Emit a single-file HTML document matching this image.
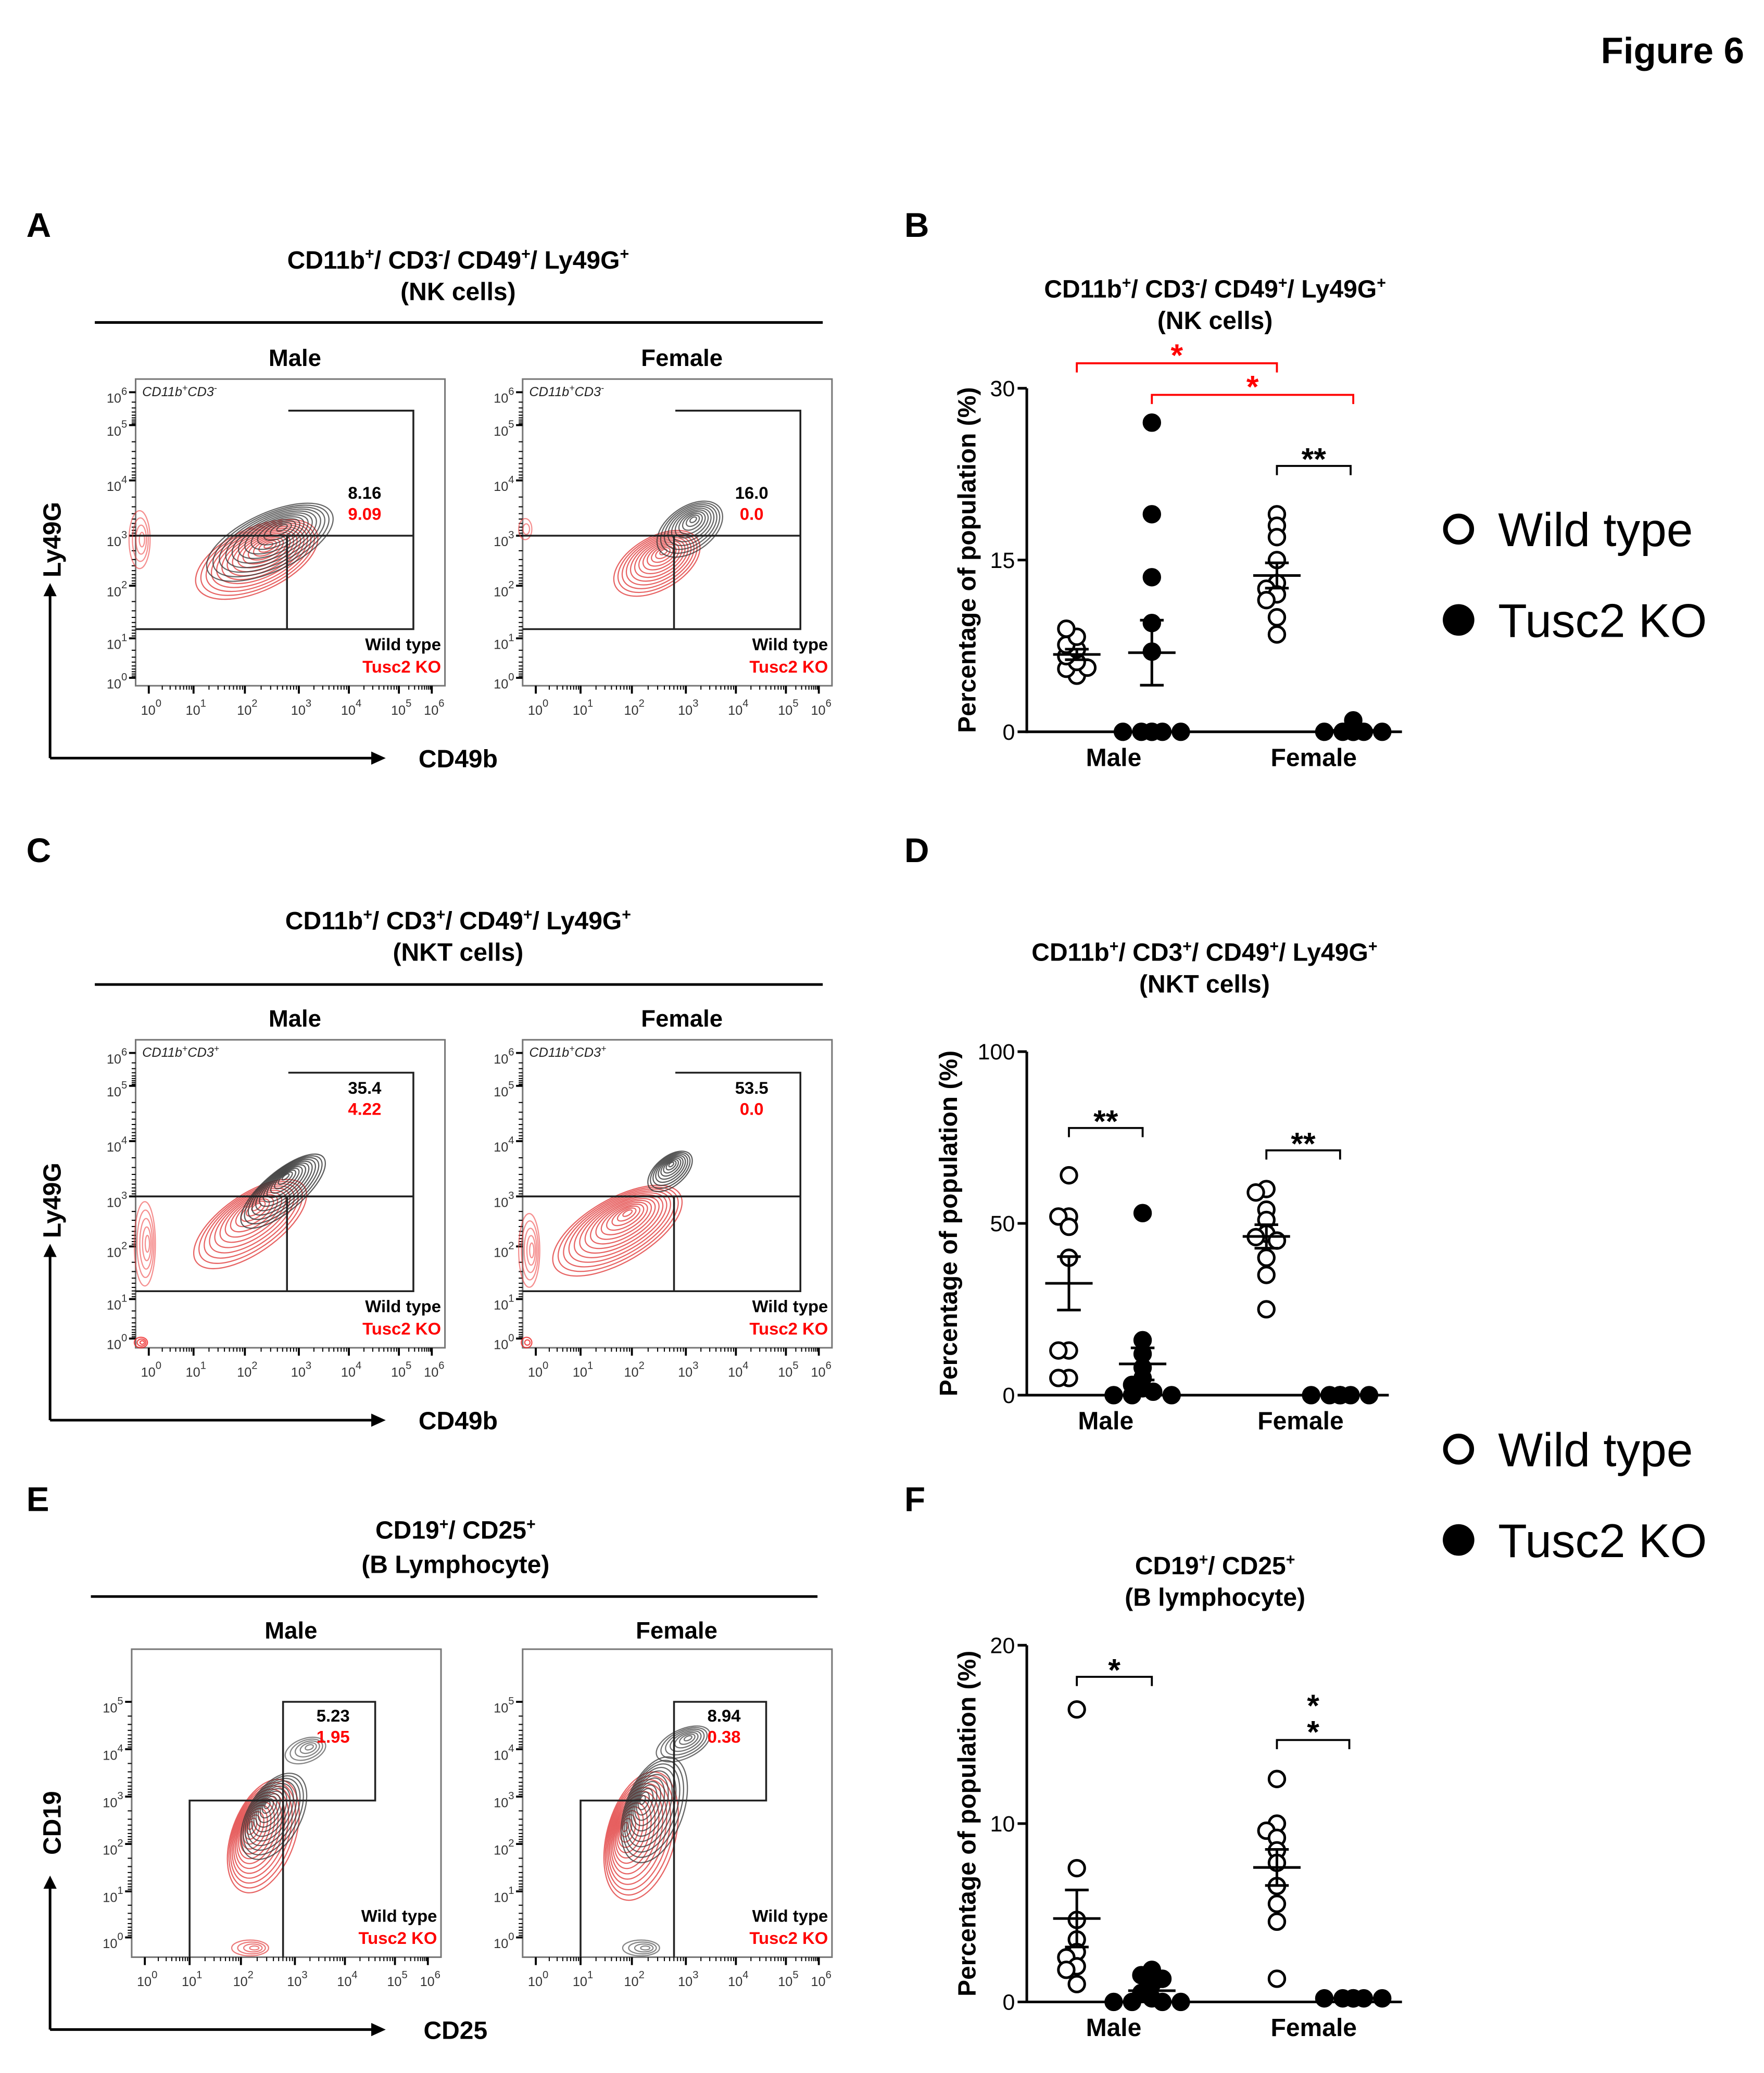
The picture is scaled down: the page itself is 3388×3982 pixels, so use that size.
<!DOCTYPE html>
<html><head><meta charset="utf-8"><style>
html,body{margin:0;padding:0;background:#fff}
svg{display:block;font-family:"Liberation Sans",Arial,sans-serif}
</style></head><body>
<svg id="fig" width="3388" height="3982" viewBox="0 0 1340 1575" xmlns="http://www.w3.org/2000/svg">
<rect width="1340" height="1575" fill="#fff"/>
<text x="1325" y="48" text-anchor="end" font-size="28" font-weight="bold">Figure 6</text>
<g font-size="26" font-weight="bold">
<text x="20" y="180">A</text>
<text x="687" y="180">B</text>
<text x="20" y="655">C</text>
<text x="687" y="655">D</text>
<text x="20" y="1148">E</text>
<text x="687" y="1148">F</text>
</g>
<g font-size="19" font-weight="bold" text-anchor="middle">
<text x="348" y="204">CD11b<tspan dy="-7" font-size="12">+</tspan><tspan dy="7">/ CD3</tspan><tspan dy="-7" font-size="12">-</tspan><tspan dy="7">/ CD49</tspan><tspan dy="-7" font-size="12">+</tspan><tspan dy="7">/ Ly49G</tspan><tspan dy="-7" font-size="12">+</tspan></text>
<text x="348" y="228">(NK cells)</text>
<text x="923" y="226">CD11b<tspan dy="-7" font-size="12">+</tspan><tspan dy="7">/ CD3</tspan><tspan dy="-7" font-size="12">-</tspan><tspan dy="7">/ CD49</tspan><tspan dy="-7" font-size="12">+</tspan><tspan dy="7">/ Ly49G</tspan><tspan dy="-7" font-size="12">+</tspan></text>
<text x="923" y="250">(NK cells)</text>
<text x="348" y="706">CD11b<tspan dy="-7" font-size="12">+</tspan><tspan dy="7">/ CD3</tspan><tspan dy="-7" font-size="12">+</tspan><tspan dy="7">/ CD49</tspan><tspan dy="-7" font-size="12">+</tspan><tspan dy="7">/ Ly49G</tspan><tspan dy="-7" font-size="12">+</tspan></text>
<text x="348" y="730">(NKT cells)</text>
<text x="915" y="730">CD11b<tspan dy="-7" font-size="12">+</tspan><tspan dy="7">/ CD3</tspan><tspan dy="-7" font-size="12">+</tspan><tspan dy="7">/ CD49</tspan><tspan dy="-7" font-size="12">+</tspan><tspan dy="7">/ Ly49G</tspan><tspan dy="-7" font-size="12">+</tspan></text>
<text x="915" y="754">(NKT cells)</text>
<text x="346" y="1169">CD19<tspan dy="-7" font-size="12">+</tspan><tspan dy="7">/ CD25</tspan><tspan dy="-7" font-size="12">+</tspan></text>
<text x="346" y="1195">(B Lymphocyte)</text>
<text x="923" y="1196">CD19<tspan dy="-7" font-size="12">+</tspan><tspan dy="7">/ CD25</tspan><tspan dy="-7" font-size="12">+</tspan></text>
<text x="923" y="1220">(B lymphocyte)</text>
</g>
<g id="legends"></g>
<g id="flows"></g>
<g id="scatters"></g>
</svg>
<script>
const NS="http://www.w3.org/2000/svg";
const svg=document.getElementById('fig');
function el(tag,attrs,parent,txt){const e=document.createElementNS(NS,tag);for(const k in attrs)e.setAttribute(k,attrs[k]);if(txt!==undefined)e.textContent=txt;(parent||svg).appendChild(e);return e;}

// ---------- scatter data ----------
const nkMaleWT=[4.9,5.5,5.6,6.1,6.6,7.2,7.6,8.3,9.0];
const nkMaleKO=[27,19,13.5,9.5,7,0,0,0,0,0,0];
const nkFemaleWT=[19,18,17,15,13,12.5,12,11.5,10,8.5];
const nkFemaleKO=[1,0,0,0,0,0,0,0];
const nkYTicks=[0,15,30];
const nktMaleWT=[64,52,52,49,40,13,13,5,5];
const nktMaleKO=[53,16,12,8,5,3,2,1,0,0,0];
const nktFemaleWT=[60,59,54,51,47,46,45,40,35,25];
const nktFemaleKO=[0,0,0,0,0,0,0,0];
const nktYTicks=[0,50,100];
const bMaleWT=[16.4,7.5,4.6,3.5,2.8,2.5,2.0,1.8,1.0];
const bMaleKO=[1.8,1.5,1.3,1.0,0.5,0.2,0,0,0,0];
const bFemaleWT=[12.5,10,9.6,9.2,8.5,7.8,6.5,5.5,4.5,1.3];
const bFemaleKO=[0.2,0.2,0.2,0.2,0.2,0.2,0.2,0.2];
const bYTicks=[0,10,20];
const categories=['Male','Female'];

const sg=document.getElementById('scatters');
function scatterPanel(p){
  const g=el('g',{},sg);
  
  
  const max=p.ticks[p.ticks.length-1];
  const Y=v=>p.y0-v*(p.y0-p.yTop)/max;
  el('line',{x1:p.ax,y1:p.yTop,x2:p.ax,y2:p.y0+1,stroke:'#000','stroke-width':2},g);
  el('line',{x1:p.ax,y1:p.y0,x2:p.ax2,y2:p.y0,stroke:'#000','stroke-width':2},g);
  p.ticks.forEach(t=>{
    el('line',{x1:p.ax-7,y1:Y(t),x2:p.ax,y2:Y(t),stroke:'#000','stroke-width':2},g);
    const tx=el('text',{x:p.ax-9,y:Y(t)+6,'text-anchor':'end','font-size':17},g,String(t));
    
    
  });
  const yl=el('text',{x:0,y:0,transform:`translate(${p.ylx},${(p.yTop+p.y0)/2}) rotate(-90)`,'text-anchor':'middle','font-size':19,'font-weight':'bold'},g,'Percentage of population (%)');
  
  
  categories.forEach((c,i)=>{
    const t=el('text',{x:p.catX[i],y:p.y0+26,'text-anchor':'middle','font-size':19,'font-weight':'bold'},g,c);
    
    
  });
  p.groups.forEach((gr,gi)=>{
    const placed=[];
    gr.vals.forEach(v=>{
      const y=Y(v);
      const offs=[0,-8,8,-15,15,-22,22,-29,29];
      let ox=0;
      for(const o of offs){if(placed.every(q=>Math.hypot(q[0]-o,q[1]-y)>=7.5)){ox=o;break;}}
      placed.push([ox,y]);
      const c=el('circle',{cx:gr.x+ox,cy:y,r:6,fill:gr.filled?'#000':'#fff',stroke:'#000','stroke-width':2},g);
      
      
    });
    const n=gr.vals.length,m=gr.vals.reduce((a,b)=>a+b,0)/n;
    const sd=Math.sqrt(gr.vals.reduce((a,b)=>a+(b-m)*(b-m),0)/(n-1)),se=sd/Math.sqrt(n);
    const ml=el('line',{x1:gr.x-18,y1:Y(m),x2:gr.x+18,y2:Y(m),stroke:'#000','stroke-width':2},g);
    
    
    el('line',{x1:gr.x,y1:Y(m+se),x2:gr.x,y2:Y(Math.max(0,m-se)),stroke:'#000','stroke-width':2},g);
    el('line',{x1:gr.x-9,y1:Y(m+se),x2:gr.x+9,y2:Y(m+se),stroke:'#000','stroke-width':2},g);
    el('line',{x1:gr.x-9,y1:Y(Math.max(0,m-se)),x2:gr.x+9,y2:Y(Math.max(0,m-se)),stroke:'#000','stroke-width':2},g);
  });
  p.brackets.forEach(b=>{
    const bg=el('g',{},g);
    
    
    el('path',{d:`M${b.x1} ${b.y+7}V${b.y}H${b.x2}V${b.y+7}`,fill:'none',stroke:b.col,'stroke-width':1.5},bg);
    b.stars.forEach(s=>el('text',{x:(b.x1+b.x2)/2,y:s,'text-anchor':'middle','font-size':24,'font-weight':'bold',fill:b.col},bg,b.txt));
  });
}
scatterPanel({name:'panel-b-nk-scatter',ax:780,ax2:1065,yTop:295,y0:556,ticks:nkYTicks,ylx:741,catX:[846,998],
  groups:[{x:818,vals:nkMaleWT},{x:875,vals:nkMaleKO,filled:1},{x:970,vals:nkFemaleWT},{x:1028,vals:nkFemaleKO,filled:1}],
  brackets:[{x1:818,x2:970,y:276,col:'#f00',txt:'*',stars:[278]},{x1:875,x2:1028,y:300,col:'#f00',txt:'*',stars:[302]},{x1:970,x2:1026,y:354,col:'#000',txt:'**',stars:[357]}]});
scatterPanel({name:'panel-d-nkt-scatter',ax:780,ax2:1055,yTop:799,y0:1060,ticks:nktYTicks,ylx:727,catX:[840,988],
  groups:[{x:812,vals:nktMaleWT},{x:868,vals:nktMaleKO,filled:1},{x:962,vals:nktFemaleWT},{x:1018,vals:nktFemaleKO,filled:1}],
  brackets:[{x1:812,x2:868,y:857,col:'#000',txt:'**',stars:[860]},{x1:962,x2:1018,y:874,col:'#000',txt:'**',stars:[877]}]});
scatterPanel({name:'panel-f-b-scatter',ax:780,ax2:1065,yTop:1250,y0:1521,ticks:bYTicks,ylx:741,catX:[846,998],
  groups:[{x:818,vals:bMaleWT},{x:875,vals:bMaleKO,filled:1},{x:970,vals:bFemaleWT},{x:1028,vals:bFemaleKO,filled:1}],
  brackets:[{x1:818,x2:875,y:1274,col:'#000',txt:'*',stars:[1277]},{x1:970,x2:1025,y:1322,col:'#000',txt:'*',stars:[1304,1324]}]});

// ---------- legends ----------
const lg=document.getElementById('legends');
[402,1101].forEach(y=>{
  const a=el('g',{},lg);
  
  
  el('circle',{cx:1108,cy:y,r:10,fill:'#fff',stroke:'#000','stroke-width':3.5},a);
  el('text',{x:1138,y:y+13,'font-size':36},a,'Wild type');
  const b=el('g',{},lg);
  
  
  el('circle',{cx:1108,cy:y+69,r:12,fill:'#000'},b);
  el('text',{x:1138,y:y+82,'font-size':36},b,'Tusc2 KO');
});

// ---------- flow plots ----------
const fg=document.getElementById('flows');
const flowDecades=[0,1,2,3,4,5,6];
function pow10(g,x,y,e,anchor){
  const t=el('text',{x:x,y:y,'font-size':10,fill:'#333','text-anchor':anchor||'start'},g,'10');
  el('tspan',{dy:-6,'font-size':8},t,String(e));
}
function contours(g,cx,cy,rx,ry,rot,n,col,op){
  for(let i=0;i<n;i++){const f=1-i/n;
    el('ellipse',{cx:cx+ (1-f)*rx*0.3*Math.cos(rot*Math.PI/180),cy:cy+(1-f)*rx*0.3*Math.sin(rot*Math.PI/180),rx:rx*f,ry:ry*f,transform:`rotate(${rot} ${cx} ${cy})`,fill:'none',stroke:col,'stroke-width':0.9,opacity:op},g);}
}
function flowPlot(o){
  const g=el('g',{},fg);
  
  
  el('rect',{x:o.x,y:o.y,width:o.w,height:o.h,fill:'none',stroke:'#777','stroke-width':1.2},g);
  o.yt.forEach((yy,i)=>{
    el('line',{x1:o.x-5,y1:yy,x2:o.x,y2:yy,stroke:'#000','stroke-width':1.5},g);
    pow10(g,o.x-22,yy+8,o.yd[i]);
    if(i<o.yt.length-1){const n=o.yt[i+1];for(let k=2;k<10;k++){const yy2=yy+(n-yy)*Math.log10(k);el('line',{x1:o.x-3,y1:yy2,x2:o.x,y2:yy2,stroke:'#000','stroke-width':0.8},g);}}
  });
  const xt=[o.x+10,o.x+44,o.x+83,o.x+124,o.x+162,o.x+200,o.x+225];
  xt.forEach((xx,i)=>{
    el('line',{x1:xx,y1:o.y+o.h,x2:xx,y2:o.y+o.h+6,stroke:'#000','stroke-width':1.5},g);
    pow10(g,xx-6,o.y+o.h+22,flowDecades[i]);
    if(i<xt.length-1){const n=xt[i+1];for(let k=2;k<10;k++){const x2=xx+(n-xx)*Math.log10(k);el('line',{x1:x2,y1:o.y+o.h,x2:x2,y2:o.y+o.h+3,stroke:'#000','stroke-width':0.8},g);}}
  });
  if(o.lab){const t=el('text',{x:o.x+5,y:o.y+13,'font-size':10,'font-style':'italic',fill:'#222'},g,o.lab[0]);el('tspan',{dy:-4,'font-size':7},t,o.lab[1]);el('tspan',{dy:4},t,'CD3');el('tspan',{dy:-4,'font-size':7},t,o.lab[2]);}
  o.blobs.forEach(b=>contours(g,...b));
  o.lines.forEach(l=>el('path',{d:l,fill:'none',stroke:'#222','stroke-width':1.4},g));
  el('text',{x:o.vx,y:o.vy,'text-anchor':'middle','font-size':13,'font-weight':'bold'},g,o.v[0]);
  el('text',{x:o.vx,y:o.vy+16,'text-anchor':'middle','font-size':13,'font-weight':'bold',fill:'#f00'},g,o.v[1]);
  el('text',{x:o.x+o.w-3,y:o.y+o.h-27,'text-anchor':'end','font-size':13,'font-weight':'bold'},g,'Wild type');
  el('text',{x:o.x+o.w-3,y:o.y+o.h-10,'text-anchor':'end','font-size':13,'font-weight':'bold',fill:'#f00'},g,'Tusc2 KO');
}
const ytA=[298,323,365,407,445,485,515];
function row(y0,h,yt,yd,males,vals,labs,gate,blobsM,blobsF,names){
  [103,397].forEach((x,i)=>{
    const d=x-103;
    const L=gate.map(s=>s.replace(/X(-?\d+)/g,(m,n)=>x+ +n));
    flowPlot({name:names[i],x:x,y:y0,w:235,h:h,yt:yt,yd:yd,lab:labs,blobs:(i?blobsF:blobsM).map(b=>[b[0]+d,...b.slice(1)]),lines:L,vx:x+174,vy:vals.y,v:vals.v[i]});
  });
}
const blobsAM=[[195,425,50,24,-25,14,'#d22',0.7],[205,412,52,22,-25,12,'#333',0.75],[106,410,8,22,0,4,'#e44',0.6]];
const blobsAF=[[205,428,36,20,-30,12,'#d22',0.7],[230,402,28,17,-35,10,'#333',0.75],[105,402,5,8,0,2,'#e44',0.6]];
row(288,233,ytA,[6,5,4,3,2,1,0],0,{y:379,v:[['8.16','9.09'],['16.0','0.0']]},['CD11b','+','-'],
 ['MX116 312 H X211 V478 H X0','MX0 407 H X211','MX115 407 V478'],blobsAM,blobsAF,['panel-a-male-flow','panel-a-female-flow']);
const ytC=ytA.map(v=>v+502);
const blobsCM=[[190,930,50,22,-35,12,'#d22',0.7],[215,905,40,15,-40,12,'#333',0.8],[110,945,8,32,0,5,'#e44',0.6],[107,1020,5,4,0,3,'#e22',0.8]];
const blobsCF=[[175,935,55,24,-30,14,'#d22',0.7],[215,890,20,11,-40,9,'#333',0.8],[108,950,8,28,0,5,'#e44',0.6],[106,1020,4,4,0,2,'#e22',0.8]];
row(790,234,ytC,[6,5,4,3,2,1,0],0,{y:831,v:[['35.4','4.22'],['53.5','0.0']]},['CD11b','+','+'],
 ['MX116 815 H X211 V981 H X0','MX0 909 H X211','MX115 909 V981'],blobsCM,blobsCF,['panel-c-male-flow','panel-c-female-flow']);
const ytE=[1293,1329,1365,1401,1437,1472];
[100,397].forEach((x,i)=>{
  const d=x-100;
  const bM=[[200,1395,45,24,-70,14,'#d22',0.7],[208,1380,36,20,-60,12,'#333',0.75],[232,1330,16,9,-20,5,'#333',0.6],[190,1480,14,6,0,4,'#d22',0.6]];
  const bF=[[190,1395,50,26,-75,14,'#d22',0.7],[200,1375,42,22,-70,12,'#333',0.75],[222,1325,22,11,-25,7,'#333',0.7],[190,1480,14,6,0,4,'#333',0.6]];
  flowPlot({name:i?'panel-e-female-flow':'panel-e-male-flow',x:x,y:1253,w:235,h:234,yt:ytE,yd:[5,4,3,2,1,0],lab:null,
   blobs:(i?bF:bM).map(b=>[b[0]+d,...b.slice(1)]),
   lines:[`M${x+44} 1487 V1368 H${x+185} V1293 H${x+115} V1487`],vx:x+153,vy:1308,v:i?['8.94','0.38']:['5.23','1.95']});
});

// ---------- flow headers and axes ----------
function hdr(lineY,x1,x2,lblY,cx){
  el('line',{x1:x1,y1:lineY,x2:x2,y2:lineY,stroke:'#000','stroke-width':2});
  const a=el('text',{x:cx[0],y:lblY,'text-anchor':'middle','font-size':18,'font-weight':'bold'},svg,'Male');
  
  const b=el('text',{x:cx[1],y:lblY,'text-anchor':'middle','font-size':18,'font-weight':'bold'},svg,'Female');
  
}
hdr(245,72,625,278,[224,518]);hdr(748,72,625,780,[224,518]);hdr(1213,69,621,1245,[221,514]);
function arrows(y,top,yl,xl,yLabY,xLabX){
  el('line',{x1:38,y1:y,x2:38,y2:top+8,stroke:'#000','stroke-width':2});
  el('path',{d:`M33 ${top+10}L38 ${top}L43 ${top+10}Z`,fill:'#000'});
  el('line',{x1:38,y1:y,x2:284,y2:y,stroke:'#000','stroke-width':2});
  el('path',{d:`M282 ${y-5}L293 ${y}L282 ${y+5}Z`,fill:'#000'});
  const a=el('text',{x:0,y:0,transform:`translate(46,${yLabY}) rotate(-90)`,'text-anchor':'middle','font-size':19,'font-weight':'bold'},svg,yl);
  
  const b=el('text',{x:xLabX,y:y+7,'text-anchor':'middle','font-size':19,'font-weight':'bold'},svg,xl);
  
}
arrows(576,443,'Ly49G','CD49b',410,348);
arrows(1079,945,'Ly49G','CD49b',912,348);
arrows(1542,1425,'CD19','CD25',1385,346);
</script>
</body></html>
